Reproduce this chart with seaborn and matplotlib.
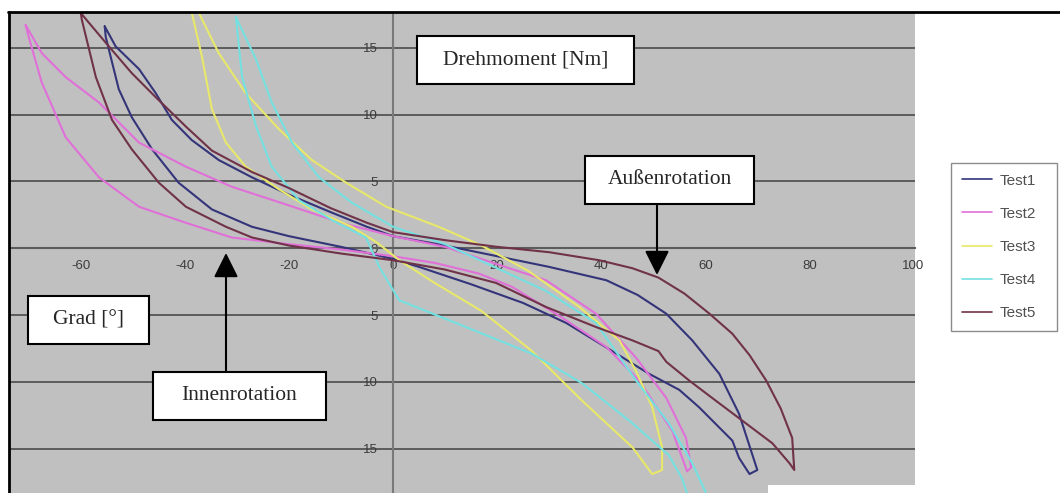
import pandas as pd
import matplotlib
matplotlib.use("Agg")
import matplotlib.pyplot as plt
from matplotlib.patches import Rectangle, FancyArrowPatch
from matplotlib.lines import Line2D
import seaborn as sns

W, H = 1060, 493

# series: one closed hysteresis loop per test (Grad vs. Drehmoment)
tests = ["Test1", "Test2", "Test3", "Test4", "Test5"]
colors = ["#34347a", "#e070d8", "#e8e86a", "#74e0e0", "#703248"]

test1_x = [-55.4, -53.3, -48.8, -45.6, -42.5, -38.7, -33.5, -27.1, -20, -12, -5, 0, 10, 20, 30, 41, 47,
           52.5, 57.5, 62.7, 66.5, 69, 70, 68.5, 66.5, 65.2, 58.8, 55, 49.2, 39.6, 33.3, 25, 15, 5, 0,
           -10, -20, -27.1, -34.8, -41.2, -46.3, -50.2, -52.7, -55.2, -55.4]
test1_y = [16.6, 15.1, 13.4, 11.6, 9.6, 8.1, 6.6, 5.3, 4.0, 2.7, 1.6, 0.9, 0.2, -0.6, -1.4, -2.4, -3.5,
           -4.9, -6.9, -9.4, -12.4, -15.4, -16.6, -16.9, -15.7, -14.4, -11.9, -10.6, -9.4, -7.1, -5.6, -4.1, -2.7, -1.4, -0.8,
           0.1, 0.9, 1.6, 2.9, 4.9, 7.4, 9.8, 11.9, 15.8, 16.6]

test2_x = [-70.6, -67.5, -62.9, -56.5, -48.8, -39.8, -31, -20, -10, 0, 10, 20, 29.4, 39, 46.7, 52.5,
           56.3, 57.3, 56.5, 53.7, 47.3, 41, 32.5, 22.9, 16.5, 8, 0, -10, -20, -31, -39.8, -48.8,
           -56.5, -62.9, -67.5, -70, -70.6]
test2_y = [16.7, 14.6, 12.8, 10.9, 7.9, 6.1, 4.6, 3.2, 1.9, 0.9, 0.1, -1.2, -2.4, -4.9, -8.2, -11.2,
           -14.2, -16.4, -16.7, -13.7, -9.9, -7.4, -5.2, -2.9, -1.9, -1.1, -0.6, -0.1, 0.3, 0.8, 1.9, 3.1,
           5.3, 8.3, 12.4, 15.8, 16.7]

test3_x = [-38.3, -37.3, -33.5, -28.3, -21.9, -15.6, -9, -1.3, 8.8, 17, 26, 35.8, 43.5, 46.7, 49.8,
           51.7, 51.7, 49.8, 46, 36.3, 26.7, 17, 8, 1.2, -3, -7.9, -15.6, -21.9, -28.3, -32.1, -34.8,
           -36.7, -38.7, -38.3]
test3_y = [18.8, 17.6, 14.6, 11.6, 8.9, 6.6, 4.9, 3.1, 1.6, 0.2, -1.7, -4.4, -6.9, -9.2, -11.9,
           -14.9, -16.6, -16.9, -14.9, -11.4, -7.7, -4.7, -2.6, -0.9, 0.4, 1.6, 2.9, 4.4, 6.1, 7.9, 10.4,
           14.3, 17.7, 18.8]

test4_x = [-30.2, -26.3, -23.3, -19.4, -14.2, -7.9, 0, 10, 20, 29.4, 39, 46.7, 53, 57.5, 60, 61,
           57.5, 55.5, 53, 46, 36.3, 26.7, 14, 1.2, -2.5, -5.2, -11.7, -18.1, -23.3, -26.3, -29, -30.2]
test4_y = [17.3, 14.1, 10.9, 7.9, 5.3, 3.4, 1.6, 0.3, -1.5, -3.2, -5.6, -9.9, -13.1, -16.1, -18.2, -19.5,
           -19.5, -17.2, -15.5, -13.1, -10.1, -7.9, -5.9, -3.9, -1.5, 0.8, 2.1, 3.6, 6.1, 9.1, 12.8, 17.3]

test5_x = [-60, -58.5, -54.6, -50.2, -45.6, -39.8, -34.8, -27.1, -20, -12, -5, 0, 10, 20, 30, 39.6, 46,
           51, 56, 60.8, 65.2, 68.5, 71.7, 74.5, 76.7, 77.1, 76.2, 72.9, 67.1, 61.3, 56.9, 52.5, 51, 46,
           39, 29.4, 19.8, 10, 0, -10, -20, -27.1, -32.1, -39.8, -45, -50.2, -54, -57.1, -59.8, -60]
test5_y = [17.6, 16.9, 15.1, 13.1, 11.3, 9.1, 7.3, 5.7, 4.5, 3.0, 1.9, 1.2, 0.6, 0.1, -0.3, -0.9, -1.5,
           -2.2, -3.4, -4.9, -6.4, -8.0, -9.9, -12.0, -14.2, -16.6, -16.1, -14.6, -12.9, -11.2, -9.9, -8.5, -7.7, -6.9,
           -5.9, -4.4, -2.6, -1.6, -0.9, -0.4, 0.2, 0.8, 1.6, 3.1, 4.9, 7.4, 9.6, 12.8, 17.1, 17.6]

x_ticks = [-60, -40, -20, 0, 20, 40, 60, 80, 100]
x_labels = ["-60", "-40", "-20", "0", "20", "40", "60", "80", "100"]
y_ticks = [-15, -10, -5, 0, 5, 10, 15]
y_labels = ["15", "10", "5", "0", "5", "10", "15"]

xs_all = [test1_x, test2_x, test3_x, test4_x, test5_x]
ys_all = [test1_y, test2_y, test3_y, test4_y, test5_y]
frames = []
for name, xs, ys in zip(tests, xs_all, ys_all):
    frames.append(pd.DataFrame({"grad": xs, "moment": ys, "test": name}))
df = pd.concat(frames, ignore_index=True)

sns.set_style("white")
plt.rcParams["font.family"] = ["Liberation Sans", "DejaVu Sans"]

fig = plt.figure(figsize=(W / 100, H / 100), dpi=100)


def fx(px):
    return px / W


def fy(py):
    return 1 - py / H


ax = fig.add_axes([fx(10), 0, fx(915) - fx(10), fy(13)])
ax.set_facecolor("#c0c0c0")
sns.lineplot(data=df, x="grad", y="moment", hue="test", palette=colors,
             sort=False, estimator=None, lw=1.5, ax=ax)

ax.set_xlim(-73.6, 100.3)
ax.set_ylim(-18.32, 17.6)
ax.set_xlabel("")
ax.set_ylabel("")

for s in ["top", "right"]:
    ax.spines[s].set_visible(False)
ax.spines["left"].set_position(("data", 0))
ax.spines["bottom"].set_position(("data", 0))
ax.spines["left"].set_color("#7a7a7a")
ax.spines["bottom"].set_color("#5c5c5c")
ax.spines["left"].set_linewidth(1.5)
ax.spines["bottom"].set_linewidth(1.5)
ax.spines["left"].set_zorder(1.5)
ax.spines["bottom"].set_zorder(1.5)

ax.set_xticks(x_ticks)
ax.set_xticklabels(x_labels)
ax.set_yticks(y_ticks)
ax.set_yticklabels(y_labels)
ax.tick_params(axis="x", direction="inout", length=5, width=1, color="#555555",
               pad=6, labelsize=9.5, labelcolor="#3c3c3c")
ax.tick_params(axis="y", direction="inout", length=4, width=1, color="#555555",
               pad=9, labelsize=9.5, labelcolor="#3c3c3c")
ax.yaxis.grid(True, color="#5c5c5c", lw=1.4)
ax.xaxis.grid(False)
ax.set_axisbelow(True)

handles, labels = ax.get_legend_handles_labels()
for h in handles:
    h.set_linewidth(1.2)
ax.legend(handles, labels, loc="upper left", mode="expand",
          bbox_to_anchor=(fx(951), fy(330), fx(1057) - fx(951), 167 / H),
          bbox_transform=fig.transFigure, borderaxespad=0,
          fontsize=11, labelspacing=1.25, handlelength=2.0, handletextpad=0.5,
          borderpad=0.7, fancybox=False, framealpha=1, edgecolor="#8c8c8c",
          labelcolor="#505050")


def add_box(x0, y0, x1, y1, text):
    fig.add_artist(Rectangle((fx(x0), fy(y1)), fx(x1) - fx(x0), fy(y0) - fy(y1),
                             transform=fig.transFigure, facecolor="white",
                             edgecolor="black", lw=1.5, zorder=5))
    fig.text(fx((x0 + x1) / 2), fy((y0 + y1) / 2), text, ha="center", va="center",
             fontsize=15.5, family="Liberation Serif", zorder=6)


def add_arrow(x, y0, y1):
    fig.add_artist(FancyArrowPatch((fx(x), fy(y0)), (fx(x), fy(y1)),
                                   transform=fig.transFigure,
                                   arrowstyle="-|>,head_length=1.5,head_width=0.75",
                                   mutation_scale=10, color="black", lw=1.5,
                                   shrinkA=0, shrinkB=0, zorder=5))


add_box(417, 36, 634, 84, "Drehmoment [Nm]")
add_box(585, 156, 754, 204, "Außenrotation")
add_box(28, 296, 149, 344, "Grad [°]")
add_box(153, 372, 326, 420, "Innenrotation")
add_arrow(657, 204, 275)
add_arrow(226, 372, 253)

# partly cut-off box at the bottom edge
fig.add_artist(Rectangle((fx(768), 0), fx(915) - fx(768), 8 / H,
                         transform=fig.transFigure, facecolor="white", lw=0, zorder=5))

# black frame (top / left)
fig.add_artist(Line2D([fx(8.5), fx(8.5)], [0, fy(11.5)], transform=fig.transFigure,
                      color="black", lw=2, zorder=7))
fig.add_artist(Line2D([fx(7.5), 1], [fy(11.5), fy(11.5)], transform=fig.transFigure,
                      color="black", lw=2, zorder=7))

fig.savefig("out.png", dpi=100)
